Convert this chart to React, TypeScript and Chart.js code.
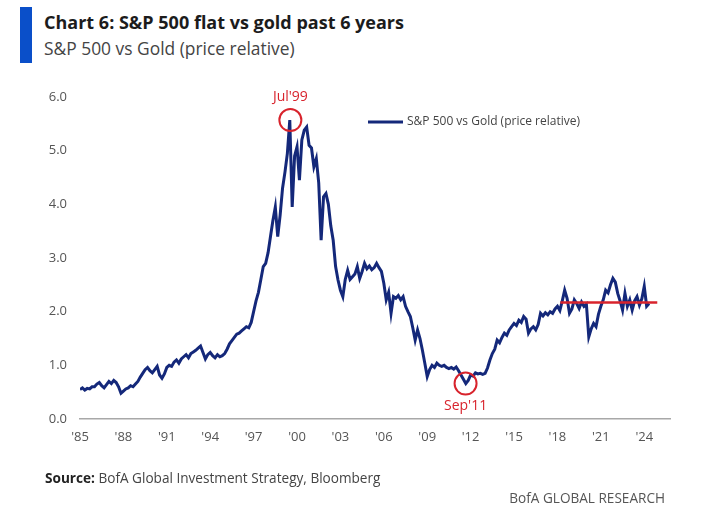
import React, { useEffect, useRef } from "react";
import { Chart, registerables } from "chart.js";

Chart.register(...registerables);

const titleText = "Chart 6: S&P 500 flat vs gold past 6 years";
const subtitleText = "S&P 500 vs Gold (price relative)";
const seriesLabel = "S&P 500 vs Gold (price relative)";
const sourceLabel = "Source:";
const sourceText = " BofA Global Investment Strategy, Bloomberg";
const brandText = "BofA GLOBAL RESEARCH";

// bi-monthly observations starting Jan 1985
const startYear = 1985;
const pointsPerYear = 6;
const ratioValues = [
  // 1985
  0.55, 0.58, 0.54, 0.57, 0.56, 0.6,
  // 1986
  0.6, 0.65, 0.68, 0.62, 0.58, 0.64,
  // 1987
  0.7, 0.66, 0.72, 0.68, 0.6, 0.48,
  // 1988
  0.52, 0.56, 0.58, 0.62, 0.6, 0.65,
  // 1989
  0.7, 0.78, 0.85, 0.92, 0.96, 0.9,
  // 1990
  0.86, 0.92, 0.98, 0.82, 0.76, 0.84,
  // 1991
  0.96, 1.0, 0.98, 1.06, 1.1, 1.04,
  // 1992
  1.12, 1.16, 1.2, 1.14, 1.22, 1.25,
  // 1993
  1.28, 1.32, 1.36, 1.24, 1.12, 1.2,
  // 1994
  1.24, 1.18, 1.14, 1.2, 1.16, 1.18,
  // 1995
  1.22, 1.3, 1.4, 1.46, 1.52, 1.58,
  // 1996
  1.6, 1.64, 1.68, 1.72, 1.7, 1.8,
  // 1997
  2.0, 2.2, 2.36, 2.6, 2.84, 2.9,
  // 1998
  3.1, 3.4, 3.7, 3.95, 3.4, 3.8,
  // 1999
  4.3, 4.6, 4.95, 5.57, 3.95, 4.9,
  // 2000
  5.07, 4.45, 5.2, 5.38, 5.44, 5.1,
  // 2001
  5.05, 4.7, 4.85, 4.4, 3.33, 4.14,
  // 2002
  4.2, 4.0, 3.6, 3.33, 2.84, 2.59,
  // 2003
  2.4, 2.28, 2.6, 2.77, 2.6, 2.65,
  // 2004
  2.7, 2.84, 2.62, 2.75, 2.9, 2.8,
  // 2005
  2.85, 2.78, 2.82, 2.9, 2.82, 2.75,
  // 2006
  2.53, 2.22, 2.36, 1.97, 2.28, 2.25,
  // 2007
  2.3, 2.22, 2.28, 2.1, 2.0, 1.91,
  // 2008
  1.7, 1.47, 1.66, 1.5, 1.28, 1.04,
  // 2009
  0.79, 0.92, 1.0, 0.96, 1.04, 1.0,
  // 2010
  0.98, 1.0, 0.96, 0.94, 0.96, 0.93,
  // 2011
  0.97, 0.9, 0.82, 0.74, 0.66, 0.72,
  // 2012
  0.82, 0.8, 0.86, 0.84, 0.85, 0.83,
  // 2013
  0.85, 0.95, 1.1, 1.22, 1.3, 1.47,
  // 2014
  1.42, 1.52, 1.6, 1.56, 1.66, 1.72,
  // 2015
  1.78, 1.74, 1.84, 1.8, 1.91, 1.86,
  // 2016
  1.6, 1.68, 1.72, 1.66, 1.76, 1.97,
  // 2017
  1.92, 1.98, 1.94, 2.0, 1.97, 2.05,
  // 2018
  2.1, 2.02, 2.2, 2.4, 2.25, 1.97,
  // 2019
  2.05, 2.22, 2.15, 2.06, 2.18, 2.1,
  // 2020
  2.14, 1.53, 1.68, 1.78, 1.72, 1.95,
  // 2021
  2.1, 2.22, 2.4, 2.35, 2.5, 2.62,
  // 2022
  2.55, 2.34, 2.2, 2.03, 2.34, 2.1,
  // 2023
  2.22, 2.03, 2.2, 2.28, 2.12, 2.24,
  // 2024
  2.47, 2.1, 2.15,
];

const flatLineYears = [2018.2, 2024.9];
const flatLineValues = [2.17, 2.17];

const xTickYears = [1985, 1988, 1991, 1994, 1997, 2000, 2003, 2006, 2009, 2012, 2015, 2018, 2021, 2024];
const yTickValues = [0, 1, 2, 3, 4, 5, 6];

const callouts = [
  { label: "Jul'99", year: 1999.54, value: 5.57, side: "above" },
  { label: "Sep'11", year: 2011.65, value: 0.66, side: "below" },
];

const FONT = "'Open Sans', 'Noto Sans', sans-serif";
const NAVY = "#14287a";
const RED = "#d8232c";

const overlayPlugin = {
  id: "overlay",
  afterDatasetsDraw(chart: any) {
    const ctx = chart.ctx;
    const xs = chart.scales.x;
    const ys = chart.scales.y;
    ctx.save();
    callouts.forEach((c) => {
      const px = xs.getPixelForValue(c.year);
      const py = ys.getPixelForValue(c.value);
      ctx.beginPath();
      ctx.strokeStyle = RED;
      ctx.lineWidth = 2;
      ctx.arc(px, py, 11, 0, Math.PI * 2);
      ctx.stroke();
      ctx.fillStyle = RED;
      ctx.font = `14px ${FONT}`;
      ctx.textAlign = "center";
      ctx.textBaseline = "middle";
      ctx.fillText(c.label, px, c.side === "above" ? py - 23 : py + 22);
    });
    const lx = 368;
    const ly = 122;
    ctx.beginPath();
    ctx.strokeStyle = NAVY;
    ctx.lineWidth = 3;
    ctx.moveTo(lx, ly);
    ctx.lineTo(lx + 35, ly);
    ctx.stroke();
    ctx.fillStyle = "#444";
    ctx.font = `12px ${FONT}`;
    ctx.textAlign = "left";
    ctx.textBaseline = "middle";
    ctx.fillText(seriesLabel, lx + 39, ly);
    ctx.restore();
  },
};

function ChartCanvas() {
  const ref = useRef<HTMLCanvasElement | null>(null);
  useEffect(() => {
    if (!ref.current) return;
    const mainData = ratioValues.map((v, i) => ({ x: startYear + i / pointsPerYear, y: v }));
    const flatData = flatLineYears.map((x, i) => ({ x, y: flatLineValues[i] }));
    const chart = new Chart(ref.current, {
      type: "line",
      data: {
        datasets: [
          {
            label: "flat",
            data: flatData,
            borderColor: RED,
            borderWidth: 2.5,
            pointRadius: 0,
            order: 0,
          },
          {
            label: seriesLabel,
            data: mainData,
            borderColor: NAVY,
            borderWidth: 3,
            pointRadius: 0,
            tension: 0,
            order: 1,
          },
        ],
      },
      options: {
        responsive: false,
        animation: false,
        devicePixelRatio: 1,
        layout: { padding: { left: 0, right: 39, top: 97, bottom: 72 } },
        plugins: {
          legend: { display: false },
          tooltip: { enabled: false },
        },
        scales: {
          x: {
            type: "linear",
            min: 1985,
            max: 2025.78,
            grid: { display: false, drawTicks: false },
            border: { display: true, color: "#a8a8a8", width: 1.5 },
            afterBuildTicks: (scale: any) => {
              scale.ticks = xTickYears.map((v) => ({ value: v }));
            },
            afterFit: (scale: any) => {
              scale.height = 30;
            },
            ticks: {
              color: "#555",
              font: { family: FONT, size: 13 },
              padding: 10,
              maxRotation: 0,
              autoSkip: false,
              callback: (v: any) => "'" + String(v).slice(2),
            },
          },
          y: {
            type: "linear",
            min: 0,
            max: 6,
            grid: { display: false, drawTicks: false },
            border: { display: false },
            afterBuildTicks: (scale: any) => {
              scale.ticks = yTickValues.map((v) => ({ value: v }));
            },
            afterFit: (scale: any) => {
              scale.width = 80;
            },
            ticks: {
              color: "#555",
              font: { family: FONT, size: 13 },
              padding: 13,
              callback: (v: any) => Number(v).toFixed(1),
            },
          },
        },
      },
      plugins: [overlayPlugin],
    });
    return () => chart.destroy();
  }, []);
  return (
    <canvas
      ref={ref}
      width={709}
      height={521}
      style={{ position: "absolute", left: 0, top: 0, width: 709, height: 521 }}
    />
  );
}

export default function App() {
  return (
    <div
      style={{
        position: "absolute",
        left: 0,
        top: 0,
        width: 709,
        height: 521,
        background: "#fff",
        overflow: "hidden",
        fontFamily: FONT,
      }}
    >
      <div style={{ position: "absolute", left: 20, top: 7, width: 12, height: 56, background: "#0a4fc9" }} />
      <div
        style={{
          position: "absolute",
          left: 44,
          top: 12,
          fontSize: 18,
          lineHeight: "20px",
          fontWeight: 700,
          color: "#1c1c1c",
          whiteSpace: "nowrap",
        }}
      >
        {titleText}
      </div>
      <div
        style={{
          position: "absolute",
          left: 44,
          top: 38,
          fontSize: 17.4,
          lineHeight: "20px",
          color: "#444",
          whiteSpace: "nowrap",
        }}
      >
        {subtitleText}
      </div>
      <ChartCanvas />
      <div
        style={{
          position: "absolute",
          left: 45,
          top: 469,
          fontSize: 13.6,
          lineHeight: "18px",
          color: "#444",
          whiteSpace: "nowrap",
        }}
      >
        <span style={{ fontWeight: 700, color: "#222" }}>{sourceLabel}</span>
        {sourceText}
      </div>
      <div
        style={{
          position: "absolute",
          right: 44,
          top: 489,
          fontSize: 13.6,
          lineHeight: "18px",
          color: "#555",
          whiteSpace: "nowrap",
        }}
      >
        {brandText}
      </div>
    </div>
  );
}
